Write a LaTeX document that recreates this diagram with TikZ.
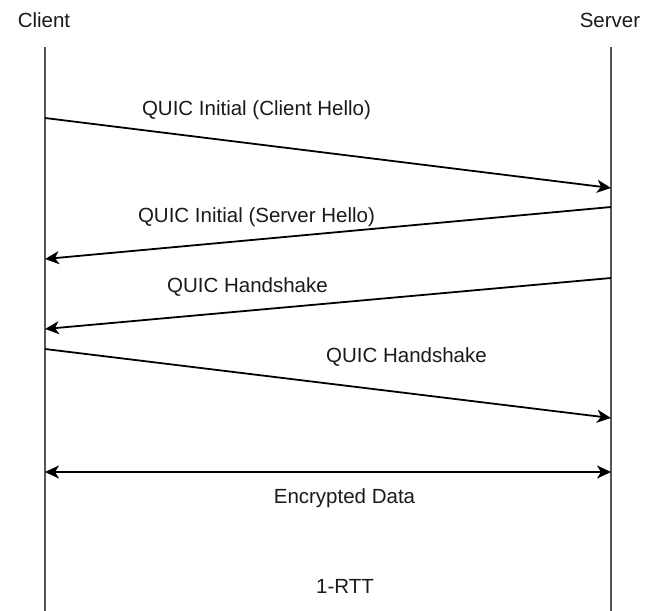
\documentclass[tikz,border=0pt]{standalone}
\usepackage{fontspec}
\setmainfont{Liberation Sans}
\usetikzlibrary{arrows.meta}
\definecolor{lifegray}{HTML}{555555}
\definecolor{txt}{HTML}{1A1A1A}
\tikzset{
  lifeline/.style={draw=lifegray, line width=2pt},
  msg/.style={draw=black, line width=1.8pt, -{Stealth[length=14pt,width=13pt,inset=4pt]}},
  bimsg/.style={draw=black, line width=1.8pt, {Stealth[length=14pt,width=13pt,inset=4pt]}-{Stealth[length=14pt,width=13pt,inset=4pt]}},
  lbl/.style={font=\fontsize{20.5}{24}\selectfont, text=txt, inner sep=0pt, anchor=base}
}
\begin{document}
\begin{tikzpicture}[x=1pt,y=-1pt]
\useasboundingbox (0,0) rectangle (657,611);
% participants
\node[lbl] (client) at (44,27) {Client};
\node[lbl] (server) at (610,27) {Server};
% lifelines
\coordinate (ctop) at (45,47);
\coordinate (cbot) at (45,611);
\coordinate (stop) at (611,47);
\coordinate (sbot) at (611,611);
\draw[lifeline] (ctop) -- (cbot);
\draw[lifeline] (stop) -- (sbot);
% message endpoints
\coordinate (m1a) at (45,118);  \coordinate (m1b) at (611,188);
\coordinate (m2a) at (611,207); \coordinate (m2b) at (45,259);
\coordinate (m3a) at (611,278); \coordinate (m3b) at (45,329);
\coordinate (m4a) at (45,349);  \coordinate (m4b) at (611,418);
\coordinate (m5a) at (45,472);  \coordinate (m5b) at (611,472);
\draw[msg] (m1a) -- (m1b);
\draw[msg] (m2a) -- (m2b);
\draw[msg] (m3a) -- (m3b);
\draw[msg] (m4a) -- (m4b);
\draw[bimsg] (m5a) -- (m5b);
% labels
\node[lbl] (l1) at (256.5,115) {QUIC Initial (Client Hello)};
\node[lbl] (l2) at (256.5,222) {QUIC Initial (Server Hello)};
\node[lbl] (l3) at (247.5,292) {QUIC Handshake};
\node[lbl] (l4) at (406.5,362) {QUIC Handshake};
\node[lbl] (l5) at (344.5,503) {Encrypted Data};
\node[lbl] (l6) at (345,593) {1-RTT};
\end{tikzpicture}
\end{document}
